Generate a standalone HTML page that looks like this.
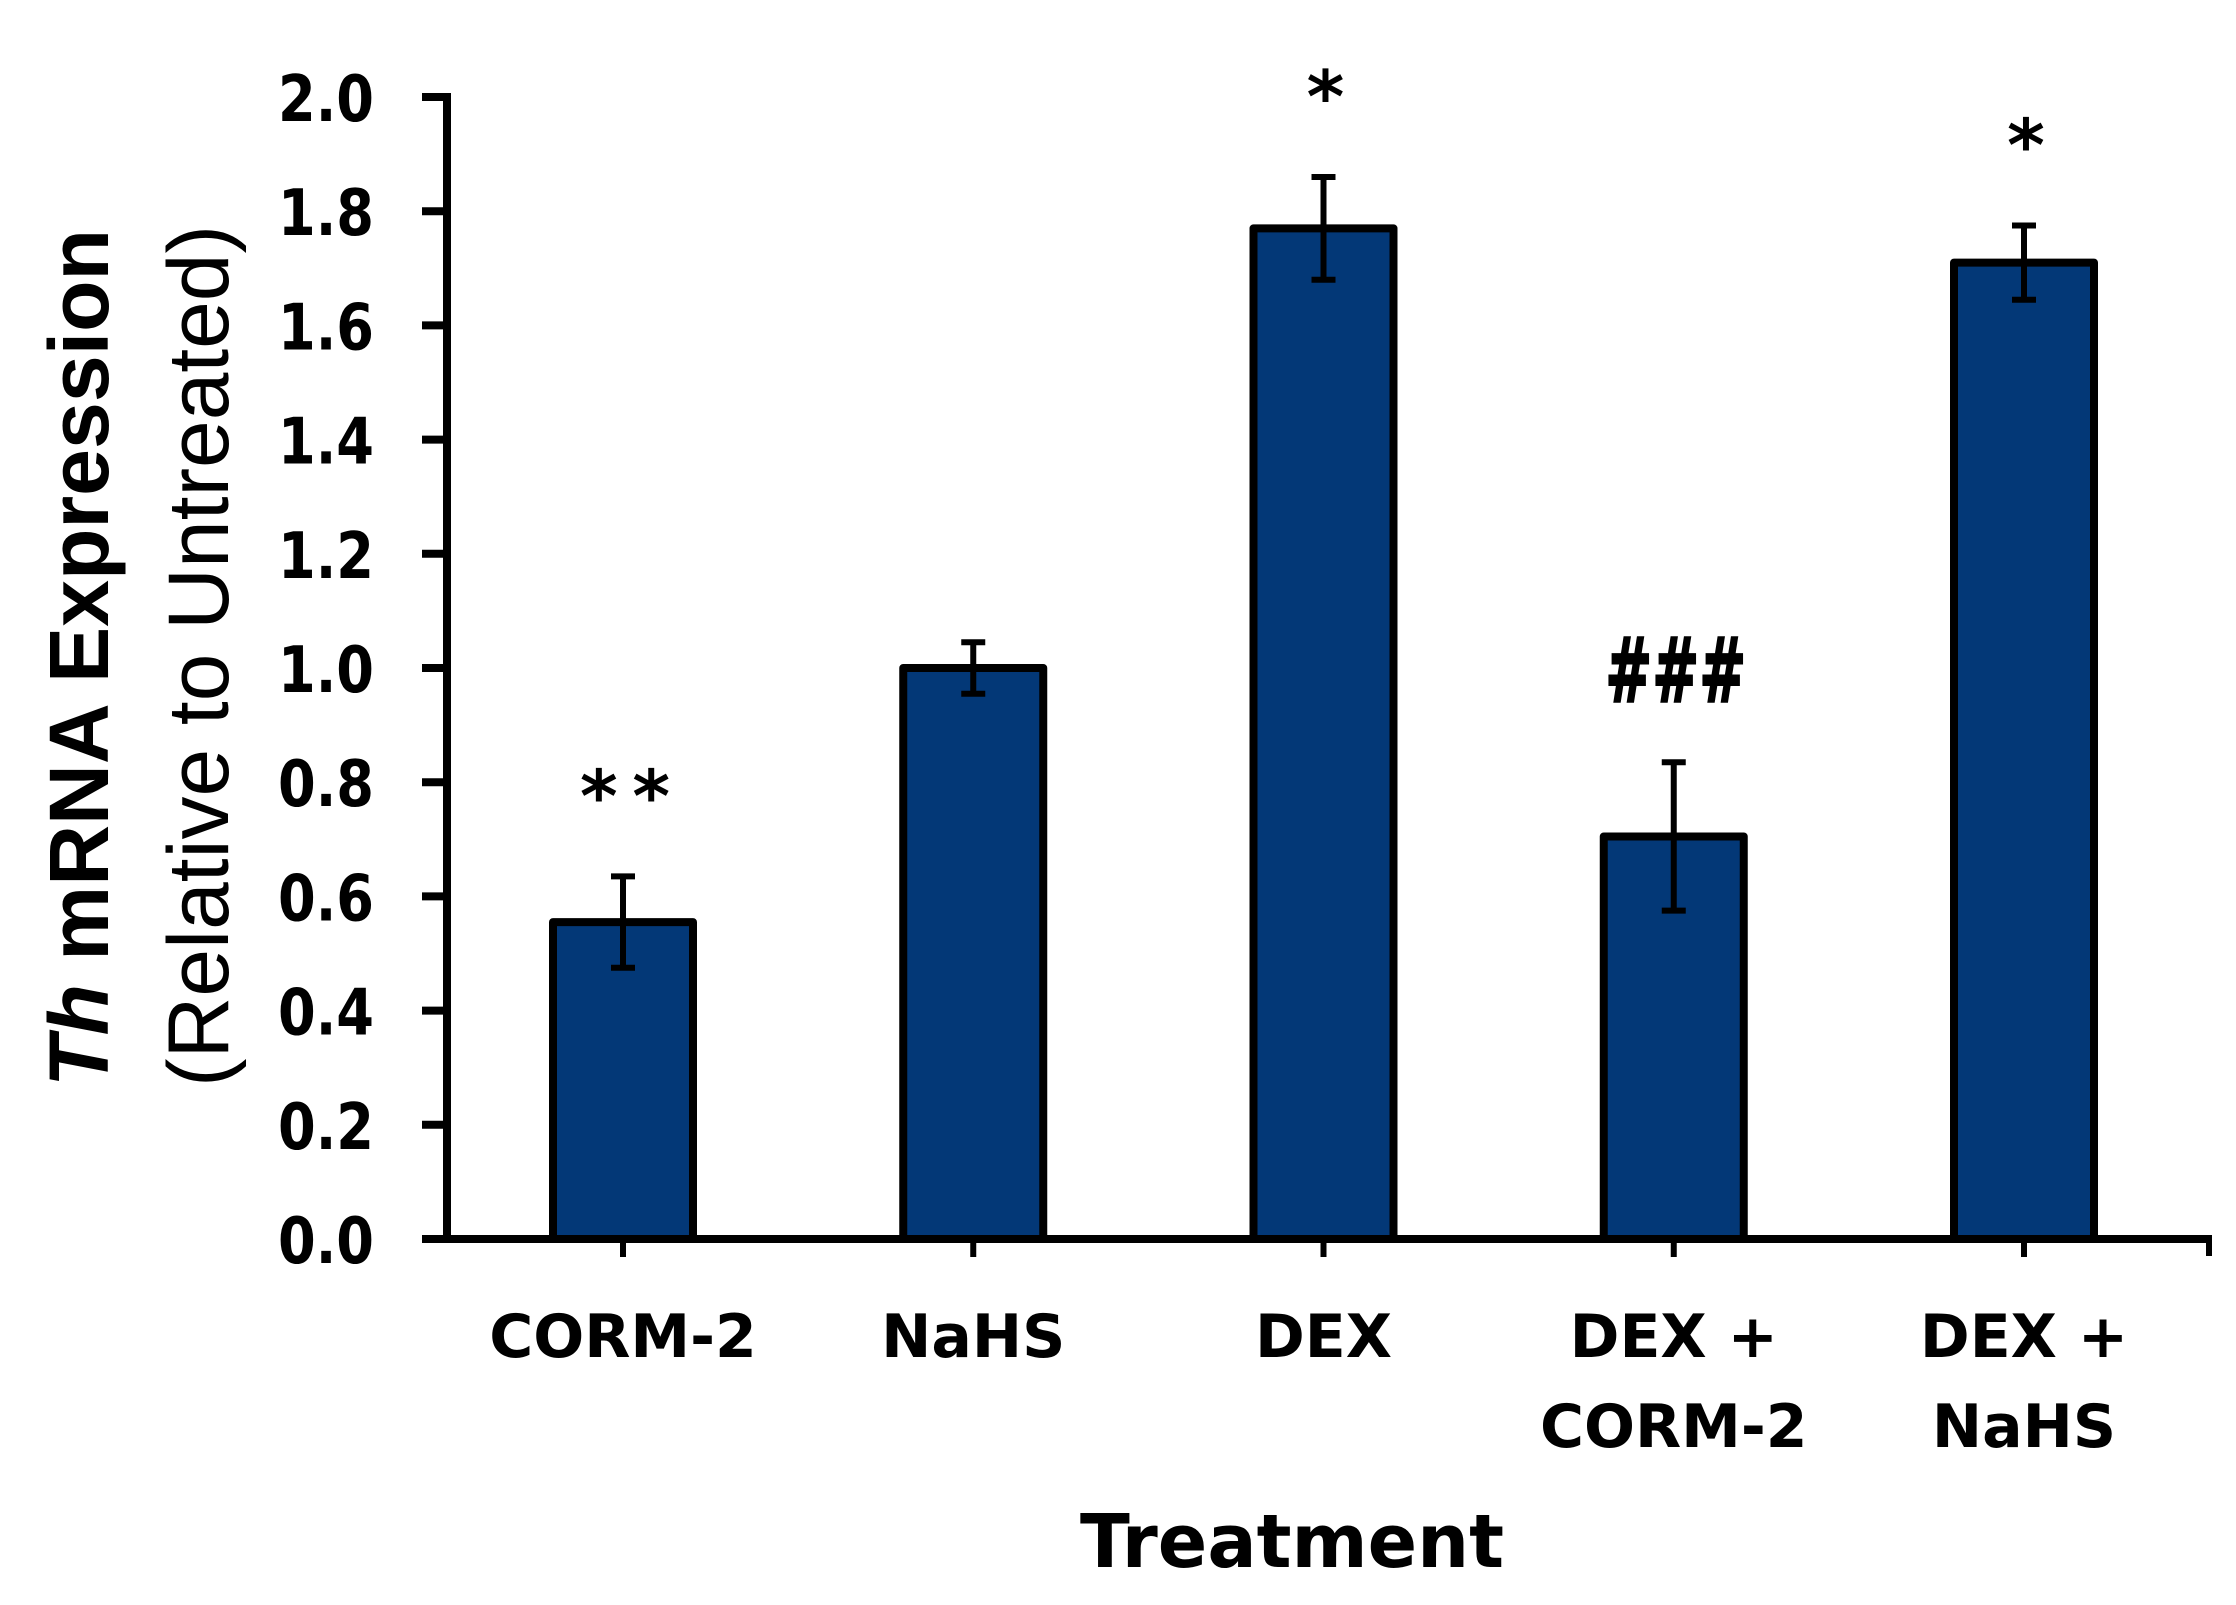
<!DOCTYPE html>
<html><head><meta charset="utf-8"><style>
html,body{margin:0;padding:0;background:#fff;}
svg{display:block;}
</style></head><body>
<svg id="chart" width="2236" height="1605" viewBox="0 0 2236 1605" xmlns="http://www.w3.org/2000/svg">
<g id="g-axes"></g>
<g id="g-bars"></g>
<g id="g-labels"></g>
<text x="1292" y="1567" text-anchor="middle" font-family="DejaVu Sans, Liberation Sans, sans-serif" font-weight="bold" font-size="74" textLength="424" lengthAdjust="spacingAndGlyphs">Treatment</text>
<text transform="translate(108,658) rotate(-90)" text-anchor="middle" font-family="Liberation Sans Narrow, Liberation Sans, sans-serif" font-weight="bold" font-size="84" textLength="858" lengthAdjust="spacingAndGlyphs"><tspan font-style="italic">Th</tspan> mRNA Expression</text>
<text transform="translate(228,656) rotate(-90)" text-anchor="middle" font-family="Liberation Sans Narrow, Liberation Sans, sans-serif" font-size="86" textLength="862" lengthAdjust="spacingAndGlyphs">(Relative to Untreated)</text>
</svg>
<script>
const categories = [["CORM-2"], ["NaHS"], ["DEX"], ["DEX +", "CORM-2"], ["DEX +", "NaHS"]];
const values = [0.555, 1.0, 1.77, 0.705, 1.71];
const errors = [0.08, 0.045, 0.09, 0.13, 0.065];
const annotations = ["**", "", "*", "###", "*"];
const yTicks = [0, 0.2, 0.4, 0.6, 0.8, 1.0, 1.2, 1.4, 1.6, 1.8, 2.0];

const NS = "http://www.w3.org/2000/svg";
const y0 = 1239, yTop = 97, yMax = 2.0;
const firstX = 623, stepX = 350.25, barW = 140;
function yScale(v){ return y0 - (v / yMax) * (y0 - yTop); }
function xScale(i){ return firstX + i * stepX; }
function mk(tag, attrs, parent){
  const e = document.createElementNS(NS, tag);
  for (const k in attrs) e.setAttribute(k, attrs[k]);
  parent.appendChild(e);
  return e;
}
const gA = document.getElementById("g-axes");
const gB = document.getElementById("g-bars");
const gL = document.getElementById("g-labels");

let yl = mk("line", {x1:447, y1:93, x2:447, y2:y0+4, stroke:"#000", "stroke-width":8}, gA);


yTicks.forEach(t => {
  const y = yScale(t);
  const tk = mk("line", {x1:422, y1:y, x2:447, y2:y, stroke:"#000", "stroke-width":8}, gA);
  
  
  const tx = mk("text", {x:374, y:y+24, "text-anchor":"end", "font-family":"DejaVu Sans, Liberation Sans, sans-serif", "font-weight":"bold", "font-size":64, textLength:96, lengthAdjust:"spacingAndGlyphs"}, gA);
  tx.textContent = t.toFixed(1);
  
  
});
let xl = mk("line", {x1:422, y1:y0, x2:2212, y2:y0, stroke:"#000", "stroke-width":8}, gA);


let xe = mk("line", {x1:2209, y1:y0, x2:2209, y2:y0+17, stroke:"#000", "stroke-width":6}, gA);



values.forEach((v, i) => {
  const cx = xScale(i), yv = yScale(v);
  const r = mk("rect", {x:cx-barW/2, y:yv, width:barW, height:y0-yv, fill:"#033877", stroke:"#000", "stroke-width":8, "stroke-linejoin":"round"}, gB);
  
  
  const tk = mk("line", {x1:cx, y1:y0, x2:cx, y2:y0+18, stroke:"#000", "stroke-width":6}, gA);
  
  
  const eg = mk("g", {}, gB);
  
  
  const yt = yScale(v + errors[i]), yb = yScale(v - errors[i]);
  mk("line", {x1:cx, y1:yt, x2:cx, y2:yb, stroke:"#000", "stroke-width":6}, eg);
  mk("line", {x1:cx-12, y1:yt, x2:cx+12, y2:yt, stroke:"#000", "stroke-width":6}, eg);
  mk("line", {x1:cx-12, y1:yb, x2:cx+12, y2:yb, stroke:"#000", "stroke-width":6}, eg);
  if (annotations[i]) {
    const isHash = annotations[i][0] === "#";
    const a = mk("text", {x:cx+2, y: isHash ? yt-60 : yt-55, "text-anchor":"middle", "font-family":"DejaVu Sans, Liberation Sans, sans-serif", "font-weight":"bold", "font-size": isHash ? 90 : 72}, gL);
    if (isHash) { a.setAttribute("textLength", 141); a.setAttribute("lengthAdjust", "spacingAndGlyphs"); a.setAttribute("stroke", "#000"); a.setAttribute("stroke-width", 2); }
    if (annotations[i] === "**") { a.setAttribute("textLength", 90); }
    a.textContent = annotations[i];
    
    
  }
  categories[i].forEach((line, j) => {
    const t = mk("text", {x:cx, y:1357 + j*90, "text-anchor":"middle", "font-family":"DejaVu Sans, Liberation Sans, sans-serif", "font-weight":"bold", "font-size":60}, gL);
    t.textContent = line;
    
    
  });
});
</script>
</body></html>
